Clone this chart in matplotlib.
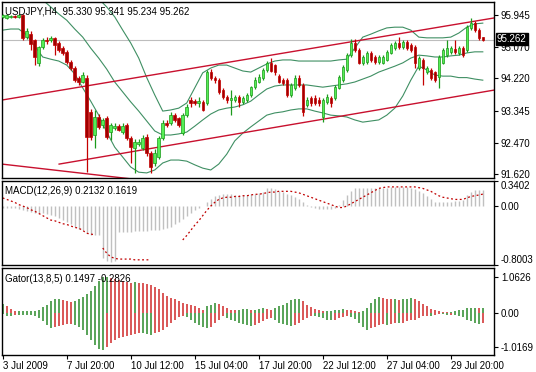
import numpy as np
import matplotlib
matplotlib.use("Agg")
import matplotlib.pyplot as plt
import matplotlib.transforms as mtransforms

plt.rcParams['font.family'] = ['Liberation Sans', 'DejaVu Sans']
plt.rcParams['font.size'] = 7

# ---- price data (USDJPY H4), one entry per bar ----
opens = [95.90, 95.86, 95.88, 95.91, 95.89, 95.94, 95.34, 95.43, 95.26, 94.64,
         95.07, 95.27, 95.26, 95.31, 95.18, 95.04, 94.93, 94.66, 94.50, 94.23,
         94.12, 94.23, 93.30, 92.68, 93.17, 92.95, 93.14, 92.76, 92.88, 92.93,
         92.76, 92.95, 92.60, 92.33, 92.44, 92.33, 92.63, 92.19, 91.92, 92.08,
         92.60, 93.01, 93.01, 93.22, 93.14, 92.73, 93.22, 93.63, 93.60, 93.56,
         93.58, 93.55, 94.39, 94.23, 94.17, 93.90, 93.71, 93.63, 93.63, 93.71,
         93.58, 93.63, 93.77, 93.98, 94.12, 94.23, 94.45, 94.64, 94.58, 94.28,
         94.17, 94.17, 93.77, 93.96, 94.23, 94.04, 93.50, 93.68, 93.68, 93.63,
         93.17, 93.58, 93.68, 93.68, 93.96, 94.17, 94.45, 94.85, 95.18, 94.99,
         94.64, 94.66, 94.91, 94.80, 94.66, 94.64, 94.72, 94.91, 95.04, 95.18,
         95.07, 95.21, 95.13, 95.07, 94.50, 94.72, 94.39, 94.45, 94.39, 94.26,
         94.64, 94.85, 94.93, 95.02, 94.90, 95.04, 94.99, 95.59, 95.72, 95.53,
         95.330]
highs = [95.96, 95.97, 95.94, 95.95, 95.96, 95.97, 95.60, 95.50, 95.30, 95.10,
         95.32, 95.35, 95.38, 95.35, 95.24, 95.10, 94.98, 94.72, 94.55, 94.28,
         94.38, 94.30, 93.40, 93.36, 93.25, 93.15, 93.20, 93.00, 93.00, 92.98,
         93.00, 93.00, 92.66, 92.56, 92.58, 92.68, 92.70, 92.25, 92.30, 92.66,
         93.10, 93.08, 93.30, 93.28, 93.18, 93.28, 93.52, 93.70, 93.65, 93.72,
         93.62, 94.45, 94.48, 94.28, 94.22, 93.95, 93.78, 93.90, 93.78, 93.76,
         93.74, 93.82, 94.02, 94.25, 94.35, 94.50, 94.70, 94.78, 94.62, 94.35,
         94.22, 94.22, 94.08, 94.30, 94.30, 94.09, 93.70, 93.75, 93.76, 93.70,
         93.68, 93.80, 93.75, 94.04, 94.32, 94.58, 94.90, 95.30, 95.29, 95.04,
         94.85, 94.97, 94.97, 94.86, 94.85, 94.85, 94.98, 95.18, 95.24, 95.34,
         95.27, 95.26, 95.18, 95.12, 94.82, 94.77, 94.56, 94.50, 94.43, 94.86,
         95.05, 95.26, 95.10, 95.26, 95.10, 95.10, 95.66, 95.86, 95.78, 95.58,
         95.341]
lows = [95.87, 95.83, 95.86, 95.85, 95.85, 95.25, 95.30, 94.99, 94.58, 94.55,
        95.02, 95.15, 95.22, 94.85, 94.94, 94.85, 94.60, 94.45, 94.12, 94.05,
        94.08, 91.67, 92.55, 92.33, 92.85, 92.88, 92.58, 92.55, 92.82, 92.78,
        92.72, 92.55, 91.92, 91.65, 92.38, 92.28, 92.12, 91.65, 91.85, 92.02,
        92.55, 92.90, 92.96, 93.03, 92.90, 92.68, 93.18, 93.45, 93.50, 93.45,
        93.32, 93.50, 94.18, 94.10, 93.80, 93.65, 93.55, 93.22, 93.58, 93.45,
        93.52, 93.58, 93.72, 93.94, 94.08, 94.18, 94.40, 94.38, 94.30, 94.08,
        94.04, 93.72, 93.70, 93.90, 93.98, 93.20, 93.45, 93.48, 93.50, 93.48,
        93.03, 93.52, 93.45, 93.62, 93.92, 94.12, 94.40, 94.80, 94.94, 94.60,
        94.58, 94.60, 94.67, 94.60, 94.60, 94.60, 94.68, 94.88, 95.00, 95.02,
        95.02, 94.99, 94.94, 94.50, 94.45, 94.04, 94.34, 94.18, 94.12, 93.96,
        94.60, 94.80, 94.88, 94.88, 94.86, 94.80, 94.94, 95.52, 95.48, 95.26,
        95.234]
closes = [95.93, 95.94, 95.91, 95.90, 95.93, 95.31, 95.50, 95.14, 94.80, 95.07,
          95.26, 95.24, 95.31, 95.12, 94.99, 94.90, 94.66, 94.50, 94.17, 94.12,
          94.31, 92.63, 92.63, 93.17, 92.90, 93.09, 92.63, 92.95, 92.93, 92.82,
          92.93, 92.60, 92.35, 92.49, 92.49, 92.60, 92.19, 91.81, 92.19, 92.60,
          93.00, 92.95, 93.22, 93.09, 92.95, 93.22, 93.44, 93.55, 93.56, 93.60,
          93.36, 94.39, 94.23, 94.17, 93.85, 93.71, 93.63, 93.68, 93.71, 93.58,
          93.68, 93.77, 93.98, 94.17, 94.26, 94.45, 94.64, 94.42, 94.39, 94.12,
          94.09, 93.77, 94.04, 94.23, 94.04, 93.30, 93.63, 93.55, 93.55, 93.55,
          93.63, 93.71, 93.55, 93.98, 94.26, 94.53, 94.85, 95.18, 94.99, 94.64,
          94.80, 94.91, 94.72, 94.66, 94.80, 94.80, 94.93, 95.13, 95.18, 95.07,
          95.21, 95.04, 94.99, 94.64, 94.77, 94.50, 94.50, 94.23, 94.17, 94.80,
          94.99, 95.04, 95.04, 94.93, 95.04, 94.85, 95.61, 95.72, 95.53, 95.31,
          95.262]

# Bollinger bands, read every second bar
band_bars = list(range(0, 121, 2))
bb_upper = [97.82, 97.68, 97.57, 97.62, 97.76, 97.90, 97.57, 97.24, 97.03, 96.78,
            96.73, 96.48, 96.38, 96.16, 95.89, 95.53, 95.18, 94.77, 94.24, 93.77,
            93.33, 93.36, 93.41, 93.55, 93.96, 94.37, 94.50, 94.58, 94.58, 94.50,
            94.42, 94.39, 94.50, 94.61, 94.69, 94.72, 94.72, 94.69, 94.69, 94.69,
            94.69, 94.69, 94.72, 94.74, 95.04, 95.34, 95.42, 95.51, 95.59, 95.61,
            95.61, 95.53, 95.34, 95.32, 95.32, 95.32, 95.34, 95.45, 95.61, 95.70,
            95.72]
bb_middle = [96.67, 96.62, 96.57, 96.51, 96.43, 96.35, 96.16, 95.97, 95.80, 95.56,
             95.34, 95.04, 94.77, 94.47, 94.12, 93.85, 93.58, 93.33, 93.06, 92.79,
             92.68, 92.68, 92.71, 92.76, 92.92, 93.09, 93.25, 93.36, 93.41, 93.44,
             93.50, 93.60, 93.77, 93.93, 94.01, 94.04, 94.04, 94.04, 94.04, 94.01,
             93.98, 94.01, 94.04, 94.07, 94.12, 94.20, 94.28, 94.39, 94.47, 94.55,
             94.64, 94.77, 94.85, 94.83, 94.80, 94.80, 94.83, 94.85, 94.91, 94.94,
             94.94]
bb_lower = [95.53, 95.56, 95.56, 95.40, 95.10, 94.80, 94.74, 94.69, 94.58, 94.34,
            93.96, 93.60, 93.22, 92.76, 92.35, 92.08, 91.81, 91.67, 91.65, 91.73,
            91.92, 92.00, 92.00, 91.97, 91.87, 91.78, 91.73, 91.89, 92.16, 92.52,
            92.73, 92.90, 93.06, 93.22, 93.28, 93.31, 93.36, 93.39, 93.39, 93.33,
            93.28, 93.22, 93.20, 93.17, 93.09, 93.03, 93.06, 93.09, 93.22, 93.41,
            93.74, 94.17, 94.55, 94.45, 94.31, 94.28, 94.28, 94.24, 94.24, 94.20,
            94.17]

# trend lines: (bar, price) end points
channel_top = ([-0.2, 122.8], [93.63, 95.86])
channel_bottom = ([14.1, 122.8], [91.89, 93.90])
fan_line = ([-0.2, 40.0], [91.89, 91.39])
last_price = 95.262

# MACD(12,26,9)
macd_main = [-0.02, -0.02, -0.03, -0.03, -0.04, -0.06, -0.07, -0.08, -0.09, -0.10,
             -0.10, -0.11, -0.12, -0.13, -0.16, -0.19, -0.22, -0.25, -0.28, -0.31,
             -0.33, -0.37, -0.39, -0.39, -0.39, -0.70, -0.75, -0.76, -0.74, -0.35,
             -0.35, -0.35, -0.35, -0.34, -0.34, -0.34, -0.34, -0.33, -0.33, -0.32,
             -0.31, -0.30, -0.28, -0.25, -0.22, -0.18, -0.14, -0.10, -0.06, -0.03,
             0.00, 0.05, 0.10, 0.13, 0.15, 0.16, 0.16, 0.16, 0.15, 0.15,
             0.15, 0.15, 0.16, 0.17, 0.18, 0.19, 0.24, 0.24, 0.23, 0.21,
             0.19, 0.17, 0.15, 0.12, 0.09, 0.06, 0.02, -0.01, -0.03, -0.04,
             -0.04, -0.04, -0.04, -0.03, 0.02, 0.08, 0.15, 0.21, 0.24, 0.25,
             0.25, 0.25, 0.25, 0.25, 0.25, 0.25, 0.25, 0.26, 0.26, 0.26,
             0.26, 0.26, 0.25, 0.23, 0.21, 0.18, 0.13, 0.09, 0.06, 0.05,
             0.06, 0.06, 0.06, 0.07, 0.07, 0.08, 0.15, 0.19, 0.22, 0.22,
             0.2132]
nan = float('nan')
macd_signal = [0.11, 0.09, 0.07, 0.05, 0.02, 0.00, -0.02, -0.05, -0.07, -0.10,
               -0.13, -0.16, -0.19, -0.20, -0.22, -0.24, -0.25, -0.27, -0.29, -0.30,
               -0.33, -0.37, -0.38, -0.39, nan, -0.57, -0.64, -0.69, -0.71, -0.72,
               -0.72, -0.72, -0.72, -0.73, -0.73, -0.73, -0.73, -0.73, nan, nan,
               nan, nan, nan, nan, nan, -0.46, -0.40, -0.33, -0.26, -0.20,
               -0.13, -0.06, 0.00, 0.05, 0.09, 0.11, 0.12, 0.12, 0.13, 0.13,
               0.14, 0.14, 0.15, 0.16, 0.16, 0.17, 0.18, 0.19, 0.19, 0.20,
               0.20, 0.20, 0.20, 0.19, 0.18, 0.16, 0.14, 0.12, 0.10, 0.08,
               0.06, 0.04, 0.02, 0.00, -0.02, -0.02, 0.00, 0.03, 0.06, 0.09,
               0.12, 0.15, 0.18, 0.21, 0.24, 0.25, 0.26, 0.26, 0.26, 0.26,
               0.26, 0.26, 0.26, 0.26, 0.25, 0.24, 0.22, 0.20, 0.17, 0.14,
               0.12, 0.11, 0.10, 0.09, 0.09, 0.09, 0.11, 0.13, 0.14, 0.15,
               0.1619]

# Gator(13,8,5): upper bars above zero, lower bars below zero (magnitudes)
gator_up = [0.27, 0.22, 0.12, 0.05, 0.05, 0.05, 0.05, 0.05, 0.05, 0.10,
            0.17, 0.25, 0.35, 0.40, 0.40, 0.38, 0.36, 0.34, 0.35, 0.40,
            0.46, 0.55, 0.66, 0.80, 0.95, 1.05, 1.05, 1.02, 1.00, 0.97,
            0.95, 0.92, 0.90, 0.92, 0.90, 0.88, 0.85, 0.82, 0.78, 0.70,
            0.60, 0.50, 0.45, 0.40, 0.35, 0.30, 0.27, 0.25, 0.20, 0.15,
            0.10, 0.20, 0.25, 0.30, 0.28, 0.20, 0.15, 0.10, 0.08, 0.10,
            0.12, 0.12, 0.10, 0.10, 0.12, 0.15, 0.12, 0.10, 0.15, 0.20,
            0.25, 0.30, 0.38, 0.40, 0.40, 0.35, 0.25, 0.18, 0.12, 0.08,
            0.05, 0.05, 0.05, 0.08, 0.10, 0.12, 0.10, 0.08, 0.05, 0.03,
            0.05, 0.15, 0.30, 0.42, 0.46, 0.45, 0.42, 0.40, 0.40, 0.38,
            0.40, 0.42, 0.45, 0.42, 0.35, 0.28, 0.20, 0.12, 0.08, 0.05,
            0.03, 0.02, 0.03, 0.05, 0.08, 0.10, 0.14, 0.15, 0.15, 0.14,
            0.1497]
gator_down = [0.03, 0.10, 0.10, 0.07, 0.07, 0.07, 0.07, 0.07, 0.08, 0.15,
              0.25, 0.35, 0.45, 0.40, 0.37, 0.35, 0.33, 0.32, 0.35, 0.40,
              0.50, 0.65, 0.80, 0.95, 1.05, 1.10, 1.00, 0.90, 0.80, 0.75,
              0.70, 0.68, 0.65, 0.62, 0.60, 0.60, 0.62, 0.65, 0.60, 0.55,
              0.50, 0.40, 0.30, 0.20, 0.12, 0.10, 0.12, 0.20, 0.28, 0.35,
              0.42, 0.45, 0.40, 0.30, 0.20, 0.10, 0.15, 0.20, 0.25, 0.28,
              0.32, 0.36, 0.38, 0.35, 0.30, 0.25, 0.18, 0.15, 0.20, 0.28,
              0.33, 0.36, 0.38, 0.35, 0.30, 0.22, 0.15, 0.10, 0.10, 0.12,
              0.16, 0.20, 0.22, 0.20, 0.15, 0.12, 0.10, 0.12, 0.18, 0.28,
              0.40, 0.50, 0.45, 0.40, 0.35, 0.33, 0.35, 0.33, 0.30, 0.30,
              0.28, 0.25, 0.22, 0.20, 0.15, 0.10, 0.08, 0.08, 0.06, 0.04,
              0.04, 0.06, 0.05, 0.05, 0.08, 0.12, 0.20, 0.25, 0.30, 0.32,
              0.2826]

tick_bars = [0, 16, 32, 48, 64, 80, 96, 112]
tick_labels = ["3 Jul 2009", "7 Jul 20:00", "10 Jul 12:00", "15 Jul 04:00",
               "17 Jul 20:00", "22 Jul 12:00", "27 Jul 04:00", "29 Jul 20:00"]

BULL, BULL_EDGE = '#55ee55', '#1c9a1c'
BEAR, BEAR_EDGE = '#a00000', '#c40000'
BAND = '#3f8f63'
TREND = '#c8102e'


def style_panel(ax, ylim, yticks, ylabels):
    ax.set_xlim(-0.175, 122.8)
    ax.set_ylim(*ylim)
    for s in ax.spines.values():
        s.set_linewidth(1.0)
        s.set_color('black')
    ax.yaxis.tick_right()
    ax.set_yticks(yticks)
    ax.set_yticklabels(ylabels)
    ax.tick_params(axis='y', direction='out', length=3, width=0.8, pad=2,
                   labelsize=7)
    ax.set_xticks([])


fig = plt.figure(figsize=(5.36, 3.72), dpi=100)
W, H = 536.0, 372.0
ax_p = fig.add_axes([2 / W, 1 - 178 / H, 492 / W, 176 / H])
ax_m = fig.add_axes([2 / W, 1 - 265 / H, 492 / W, 84 / H])
ax_g = fig.add_axes([2 / W, 1 - 355 / H, 492 / W, 87 / H])

# ---- price panel ----
bars = np.arange(len(closes))
o, h, l, c = map(np.array, (opens, highs, lows, closes))
up = c >= o
ax_p.vlines(bars[up], l[up], h[up], color=BULL_EDGE, lw=0.9, zorder=3)
ax_p.vlines(bars[~up], l[~up], h[~up], color=BEAR_EDGE, lw=0.9, zorder=3)
body = np.maximum(np.abs(c - o), 0.02)
ax_p.bar(bars[up], body[up], bottom=o[up], width=0.62, color=BULL,
         edgecolor=BULL_EDGE, lw=0.5, zorder=4)
ax_p.bar(bars[~up], body[~up], bottom=c[~up], width=0.62, color=BEAR,
         edgecolor=BEAR_EDGE, lw=0.5, zorder=4)

for band in (bb_upper, bb_middle, bb_lower):
    ax_p.plot(band_bars, band, color=BAND, lw=0.8, zorder=2)

for xs, ys in (channel_top, channel_bottom, fan_line):
    ax_p.plot(xs, ys, color=TREND, lw=1.0, zorder=2)

ax_p.axhline(last_price, color='#bdbdbd', lw=0.8, zorder=1)
price_ticks = [95.945, 95.070, 94.220, 93.345, 92.470, 91.620]
style_panel(ax_p, (91.512, 96.294), price_ticks,
            [f"{v:.3f}" for v in price_ticks])
ax_p.text(3 / 492, 1 - 9 / 176,
          "USDJPY,H4  95.330 95.341 95.234 95.262",
          transform=ax_p.transAxes, va='center', ha='left', fontsize=7)
# the bid tag sits over the 95.070 label, as in the terminal
tr = mtransforms.blended_transform_factory(ax_p.transAxes, ax_p.transData)
ax_p.text(1.006, last_price + 0.02, f"{last_price:.3f}", transform=tr,
          color='white', va='center', ha='left', fontsize=7,
          bbox=dict(boxstyle='square,pad=0.12', fc='black', ec='black'),
          zorder=6, clip_on=False)

# ---- MACD panel ----
mm = np.array(macd_main)
ax_m.vlines(bars, 0, mm, color='#c0c0c0', lw=1.0)
ax_m.plot(bars, macd_signal, color='#c00000', lw=0.9, ls=(0, (1.5, 2.0)))
style_panel(ax_m, (-0.8003, 0.3402), [0.3402, 0.0, -0.8003],
            ["0.3402", "0.00", "-0.8003"])
labs = ax_m.get_yticklabels()
labs[0].set_va('top')
labs[2].set_va('bottom')
ax_m.text(3 / 492, 1 - 10 / 84, "MACD(12,26,9) 0.2132 0.1619",
          transform=ax_m.transAxes, va='center', ha='left', fontsize=7)

# ---- Gator panel ----
gu = np.array(gator_up)
gd = np.array(gator_down)
up_col = ['#2a8a2a' if i == 0 or gu[i] >= gu[i - 1] else '#d02828'
          for i in range(len(gu))]
dn_col = ['#2a8a2a' if i == 0 or gd[i] >= gd[i - 1] else '#d02828'
          for i in range(len(gd))]
ax_g.vlines(bars, 0, gu, colors=up_col, lw=1.1)
ax_g.vlines(bars, -gd, 0, colors=dn_col, lw=1.1)
style_panel(ax_g, (-1.24, 1.33), [1.0626, 0.0, -1.0169],
            ["1.0626", "0.00", "-1.0169"])
ax_g.text(3 / 492, 1 - 11 / 87, "Gator(13,8,5) 0.1497 -0.2826",
          transform=ax_g.transAxes, va='center', ha='left', fontsize=7)
ax_g.set_xticks(tick_bars)
ax_g.set_xticklabels(tick_labels)
ax_g.tick_params(axis='x', direction='out', length=3, width=0.8, pad=1,
                 labelsize=7)
for lab in ax_g.get_xticklabels():
    lab.set_ha('left')

fig.savefig("out.png", dpi=100, facecolor='white')
